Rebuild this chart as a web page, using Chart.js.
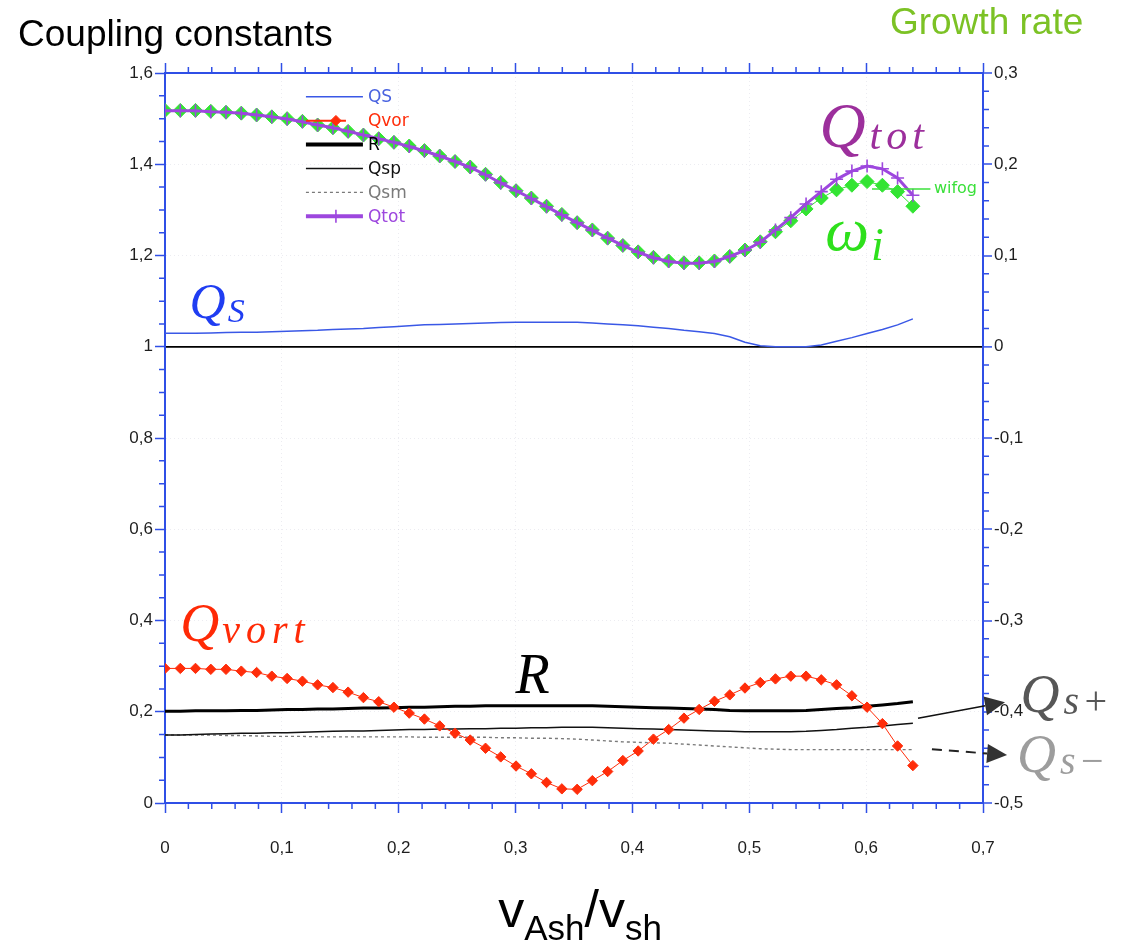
<!DOCTYPE html>
<html>
<head>
<meta charset="utf-8">
<title>Coupling constants</title>
<script src="https://cdn.jsdelivr.net/npm/chart.js@4.4.1/dist/chart.umd.min.js"></script>
<style>
  html, body { margin: 0; padding: 0; background: #fff; }
  #wrap { width: 1130px; height: 945px; position: relative; }
</style>
</head>
<body>
<div id="wrap"><canvas id="coupling"></canvas></div>
<script>
// v_Ash / v_sh sample points
const vRatio = [0, 0.0131, 0.0261, 0.0392, 0.0522, 0.0653, 0.0784, 0.0914, 0.1045, 0.1176,
  0.1306, 0.1437, 0.1567, 0.1698, 0.1829, 0.1959, 0.2090, 0.2220, 0.2351, 0.2482,
  0.2612, 0.2743, 0.2873, 0.3004, 0.3135, 0.3265, 0.3396, 0.3527, 0.3657, 0.3788,
  0.3918, 0.4049, 0.4180, 0.4310, 0.4441, 0.4571, 0.4702, 0.4833, 0.4963, 0.5094,
  0.5224, 0.5355, 0.5486, 0.5616, 0.5747, 0.5878, 0.6008, 0.6139, 0.6269, 0.6400];

// coupling constants (left axis)
const qS = [1.0295, 1.0295, 1.0295, 1.030, 1.031, 1.032, 1.032, 1.033, 1.034, 1.035,
  1.036, 1.038, 1.039, 1.040, 1.042, 1.044, 1.046, 1.048, 1.049, 1.050,
  1.051, 1.052, 1.053, 1.0535, 1.0535, 1.0535, 1.0535, 1.0535, 1.052, 1.050,
  1.048, 1.046, 1.043, 1.040, 1.036, 1.033, 1.029, 1.022, 1.010, 1.002,
  1.000, 1.000, 1.000, 1.004, 1.012, 1.020, 1.029, 1.038, 1.048, 1.061];
const qVort = [0.295, 0.295, 0.295, 0.293, 0.293, 0.289, 0.286, 0.278, 0.273, 0.267,
  0.259, 0.253, 0.243, 0.231, 0.222, 0.210, 0.197, 0.184, 0.169, 0.153,
  0.138, 0.120, 0.101, 0.081, 0.064, 0.045, 0.031, 0.030, 0.049, 0.069,
  0.093, 0.114, 0.140, 0.161, 0.186, 0.205, 0.223, 0.237, 0.252, 0.264,
  0.272, 0.278, 0.278, 0.270, 0.259, 0.235, 0.210, 0.174, 0.125, 0.082];
const rCoef = [0.201, 0.201, 0.202, 0.202, 0.202, 0.203, 0.203, 0.204, 0.205, 0.205,
  0.206, 0.206, 0.207, 0.208, 0.208, 0.209, 0.210, 0.210, 0.211, 0.212,
  0.212, 0.213, 0.213, 0.213, 0.213, 0.213, 0.213, 0.213, 0.213, 0.212,
  0.211, 0.210, 0.209, 0.208, 0.207, 0.206, 0.205, 0.203, 0.202, 0.202,
  0.202, 0.202, 0.203, 0.205, 0.207, 0.209, 0.212, 0.215, 0.218, 0.222];
const qSp = [0.149, 0.149, 0.150, 0.151, 0.152, 0.153, 0.153, 0.154, 0.154, 0.155,
  0.156, 0.157, 0.158, 0.158, 0.159, 0.160, 0.161, 0.161, 0.162, 0.162,
  0.163, 0.163, 0.164, 0.164, 0.165, 0.165, 0.166, 0.166, 0.166, 0.165,
  0.164, 0.163, 0.162, 0.161, 0.160, 0.159, 0.158, 0.157, 0.156, 0.156,
  0.156, 0.156, 0.157, 0.159, 0.161, 0.164, 0.166, 0.169, 0.172, 0.175];
const qSm = [0.149, 0.149, 0.149, 0.149, 0.148, 0.148, 0.147, 0.146, 0.146, 0.146,
  0.145, 0.145, 0.145, 0.145, 0.145, 0.145, 0.145, 0.144, 0.144, 0.144,
  0.144, 0.144, 0.143, 0.143, 0.142, 0.142, 0.141, 0.140, 0.138, 0.136,
  0.134, 0.133, 0.132, 0.131, 0.129, 0.127, 0.125, 0.123, 0.121, 0.119,
  0.118, 0.117, 0.117, 0.117, 0.117, 0.117, 0.117, 0.117, 0.117, 0.117];
const qTot = [1.517, 1.517, 1.517, 1.515, 1.514, 1.512, 1.508, 1.504, 1.499, 1.493,
  1.486, 1.480, 1.472, 1.464, 1.456, 1.448, 1.439, 1.429, 1.418, 1.406,
  1.393, 1.377, 1.359, 1.342, 1.325, 1.307, 1.289, 1.272, 1.255, 1.238,
  1.222, 1.207, 1.195, 1.187, 1.183, 1.183, 1.187, 1.198, 1.211, 1.229,
  1.256, 1.283, 1.313, 1.340, 1.367, 1.385, 1.396, 1.390, 1.370, 1.332];

// growth rate (right axis)
const wiFog = [0.259, 0.259, 0.259, 0.258, 0.257, 0.256, 0.254, 0.252, 0.250, 0.247,
  0.243, 0.240, 0.236, 0.232, 0.228, 0.224, 0.220, 0.215, 0.209, 0.203,
  0.197, 0.189, 0.180, 0.171, 0.163, 0.154, 0.145, 0.136, 0.128, 0.119,
  0.111, 0.104, 0.098, 0.094, 0.092, 0.092, 0.094, 0.099, 0.106, 0.115,
  0.126, 0.138, 0.151, 0.163, 0.172, 0.177, 0.181, 0.177, 0.170, 0.154];

const xTicks = [0, 0.1, 0.2, 0.3, 0.4, 0.5, 0.6, 0.7];
const leftTicks = [0, 0.2, 0.4, 0.6, 0.8, 1, 1.2, 1.4, 1.6];
const rightTicks = [-0.5, -0.4, -0.3, -0.2, -0.1, 0, 0.1, 0.2, 0.3];
const legendRows = ['QS', 'Qvor', 'R', 'Qsp', 'Qsm', 'Qtot'];

const axisBlue = '#2f4fe6';
const sans = '"Liberation Sans", Arial, sans-serif';
const serif = '"Liberation Serif", "Times New Roman", serif';
const tickFont = { family: sans, size: 17 };
const fmt = v => String(Math.round(v * 100) / 100).replace('.', ',');
const pts = ys => vRatio.map((x, i) => ({ x, y: ys[i] }));

function arrow(ctx, x1, y1, x2, y2, dash, width) {
  const ang = Math.atan2(y2 - y1, x2 - x1);
  const head = 20, half = 9.5;
  const bx = x2 - head * Math.cos(ang), by = y2 - head * Math.sin(ang);
  ctx.lineWidth = width;
  ctx.setLineDash(dash);
  ctx.beginPath(); ctx.moveTo(x1, y1); ctx.lineTo(bx, by); ctx.stroke();
  ctx.setLineDash([]);
  ctx.beginPath();
  ctx.moveTo(x2, y2);
  ctx.lineTo(bx + half * Math.sin(ang), by - half * Math.cos(ang));
  ctx.lineTo(bx - half * Math.sin(ang), by + half * Math.cos(ang));
  ctx.closePath(); ctx.fill();
}

function mathLabel(ctx, l, px, py) {
  ctx.fillStyle = l.color;
  ctx.textAlign = 'left';
  ctx.textBaseline = 'alphabetic';
  ctx.letterSpacing = '0px';
  ctx.font = `italic ${l.size}px ${serif}`;
  ctx.fillText(l.main, px, py);
  if (!l.sub) return;
  const w = ctx.measureText(l.main).width;
  ctx.font = `italic ${l.subSize}px ${serif}`;
  ctx.letterSpacing = (l.spacing || 0) + 'px';
  ctx.fillText(l.sub, px + w + (l.gap || 0), py + l.drop);
  ctx.letterSpacing = '0px';
}

// symbol labels placed in data units of the left axis
const mathLabels = [
  { main: 'Q', sub: 'S', x: 0.021, y: 1.062, color: '#1f3df2', size: 50, subSize: 34, drop: 4, gap: 2 },
  { main: 'Q', sub: 'tot', x: 0.560, y: 1.437, color: '#9c2f9c', size: 64, subSize: 42, drop: 2, gap: 4, spacing: 5 },
  { main: '\u03C9', sub: 'i', x: 0.565, y: 1.212, color: '#2ee01c', size: 62, subSize: 46, drop: 10, gap: 2 },
  { main: 'Q', sub: 'vort', x: 0.013, y: 0.354, color: '#ff2a06', size: 54, subSize: 40, drop: 2, gap: 3, spacing: 6 },
  { main: 'R', x: 0.300, y: 0.242, color: '#000', size: 56 },
  { main: 'Q', sub: 's+', x: 0.732, y: 0.200, color: '#575757', size: 54, subSize: 40, drop: 2, gap: 4, spacing: 3 },
  { main: 'Q', sub: 's\u2212', x: 0.729, y: 0.068, color: '#9d9d9d', size: 54, subSize: 40, drop: 2, gap: 4, spacing: 3 }
];

const decor = {
  id: 'decor',
  afterDraw(chart) {
    const { ctx, chartArea: a, scales } = chart;
    const { x, y, y2 } = scales;
    ctx.save();

    // minor ticks on all four sides
    ctx.strokeStyle = axisBlue;
    ctx.lineWidth = 1.5;
    ctx.beginPath();
    for (let i = 0; i < xTicks.length - 1; i++) {
      for (let k = 1; k < 5; k++) {
        const px = x.getPixelForValue(xTicks[i] + (xTicks[i + 1] - xTicks[i]) * k / 5);
        ctx.moveTo(px, a.bottom); ctx.lineTo(px, a.bottom + 6);
        ctx.moveTo(px, a.top); ctx.lineTo(px, a.top - 6);
      }
    }
    for (let i = 0; i < leftTicks.length - 1; i++) {
      for (let k = 1; k < 4; k++) {
        const py = y.getPixelForValue(leftTicks[i] + (leftTicks[i + 1] - leftTicks[i]) * k / 4);
        ctx.moveTo(a.left - 6, py); ctx.lineTo(a.left, py);
      }
    }
    for (let i = 0; i < rightTicks.length - 1; i++) {
      for (let k = 1; k < 5; k++) {
        const py = y2.getPixelForValue(rightTicks[i] + (rightTicks[i + 1] - rightTicks[i]) * k / 5);
        ctx.moveTo(a.right, py); ctx.lineTo(a.right + 6, py);
      }
    }
    ctx.stroke();

    // legend inside the plot
    const lx = x.getPixelForValue(0.1206);
    let ly = y.getPixelForValue(1.548);
    ctx.font = `17px "DejaVu Sans", ${sans}`;
    ctx.textBaseline = 'middle';
    ctx.textAlign = 'left';
    legendRows.forEach(name => {
      const ds = chart.data.datasets.find(d => d.label === name);
      ctx.strokeStyle = ds.borderColor;
      ctx.lineWidth = ds.legendWidth || ds.borderWidth;
      ctx.setLineDash(ds.borderDash || []);
      ctx.beginPath();
      ctx.moveTo(lx, ly); ctx.lineTo(lx + (name === 'Qvor' ? 40 : 57), ly);
      ctx.stroke();
      ctx.setLineDash([]);
      if (ds.pointRadius > 0) {
        ctx.fillStyle = ds.pointBackgroundColor || ds.borderColor;
        ctx.strokeStyle = ds.pointBorderColor || ds.borderColor;
        ctx.lineWidth = ds.pointBorderWidth || 1;
        Chart.helpers.drawPoint(ctx, {
          pointStyle: ds.pointStyle, radius: ds.pointRadius,
          borderWidth: ds.pointBorderWidth || 1, rotation: 0
        }, lx + 30, ly);
      }
      ctx.fillStyle = ds.legendText || ds.borderColor;
      ctx.fillText(name, lx + 62, ly + 1);
      ly += 23.9;
    });

    // wifog tag at the end of the growth-rate curve
    const wy = y2.getPixelForValue(0.173);
    ctx.strokeStyle = '#3be03b';
    ctx.lineWidth = 1.5;
    ctx.beginPath();
    ctx.moveTo(x.getPixelForValue(0.605), wy);
    ctx.lineTo(x.getPixelForValue(0.655), wy);
    ctx.stroke();
    ctx.fillStyle = '#3be03b';
    ctx.font = `16px "DejaVu Sans", ${sans}`;
    ctx.fillText('wifog', x.getPixelForValue(0.658), wy);

    // symbol labels
    mathLabels.forEach(l => mathLabel(ctx, l, x.getPixelForValue(l.x), y.getPixelForValue(l.y)));

    // arrows towards the Qs+ / Qs- symbols
    ctx.strokeStyle = '#111';
    ctx.fillStyle = '#333';
    arrow(ctx, x.getPixelForValue(0.6444), y.getPixelForValue(0.186),
      x.getPixelForValue(0.7188), y.getPixelForValue(0.221), [], 1.5);
    ctx.strokeStyle = '#222';
    arrow(ctx, x.getPixelForValue(0.6563), y.getPixelForValue(0.118),
      x.getPixelForValue(0.7206), y.getPixelForValue(0.105), [10, 7], 2);

    // headings
    ctx.textBaseline = 'alphabetic';
    ctx.fillStyle = '#000';
    ctx.font = `37px ${sans}`;
    ctx.fillText('Coupling constants', 18, 46);
    ctx.fillStyle = '#7cc225';
    ctx.fillText('Growth rate', 890, 34);

    // x-axis title v_Ash / v_sh
    const parts = [['v', 52, 0], ['Ash', 35, 13], ['/', 52, 0], ['v', 52, 0], ['sh', 35, 13]];
    let total = 0;
    parts.forEach(p => { ctx.font = `${p[1]}px ${sans}`; total += ctx.measureText(p[0]).width; });
    let tx = 580 - total / 2;
    ctx.fillStyle = '#000';
    parts.forEach(p => {
      ctx.font = `${p[1]}px ${sans}`;
      ctx.fillText(p[0], tx, 927 + p[2]);
      tx += ctx.measureText(p[0]).width;
    });

    ctx.restore();
  }
};

const faintGrid = 'rgba(110,110,150,0.13)';

new Chart(document.getElementById('coupling'), {
  type: 'line',
  data: {
    datasets: [
      { label: 'Qtot', data: pts(qTot), yAxisID: 'y', order: 0,
        borderColor: '#9d47de', borderWidth: 3, legendWidth: 4,
        pointStyle: 'cross', pointRadius: 6.5, pointBorderColor: '#9d47de', pointBorderWidth: 1.6 },
      { label: 'wifog', data: pts(wiFog), yAxisID: 'y2', order: 1,
        borderColor: '#33e433', borderWidth: 1,
        pointStyle: 'rectRot', pointRadius: 7, pointBackgroundColor: '#33e433', pointBorderColor: '#33e433', pointBorderWidth: 1 },
      { label: 'Qvor', data: pts(qVort), yAxisID: 'y', order: 2,
        borderColor: '#ff2d0a', borderWidth: 1, legendWidth: 2,
        pointStyle: 'rectRot', pointRadius: 5.2, pointBackgroundColor: '#ff2d0a', pointBorderColor: '#ff2d0a', pointBorderWidth: 1 },
      { label: 'QS', data: pts(qS), yAxisID: 'y', order: 3,
        borderColor: '#3a58e6', borderWidth: 1.5, pointRadius: 0, legendText: '#4a63e0' },
      { label: 'R', data: pts(rCoef), yAxisID: 'y', order: 4,
        borderColor: '#000', borderWidth: 3, legendWidth: 4, pointRadius: 0 },
      { label: 'Qsp', data: pts(qSp), yAxisID: 'y', order: 5,
        borderColor: '#111', borderWidth: 1.5, pointRadius: 0 },
      { label: 'Qsm', data: pts(qSm), yAxisID: 'y', order: 6,
        borderColor: '#7a7a7a', borderWidth: 1.4, borderDash: [3, 3], pointRadius: 0 }
    ]
  },
  options: {
    responsive: true,
    maintainAspectRatio: false,
    animation: false,
    layout: { padding: { top: 53, left: 0, right: 0, bottom: 0 } },
    plugins: { legend: { display: false }, tooltip: { enabled: false } },
    elements: { line: { tension: 0 } },
    scales: {
      x: {
        type: 'linear', position: 'bottom', min: 0, max: 0.7,
        afterBuildTicks: s => { s.ticks = xTicks.map(value => ({ value })); },
        afterFit: s => { s.height = 142; },
        border: { color: axisBlue, width: 2, dash: [1, 3] },
        grid: { color: faintGrid, tickColor: axisBlue, tickLength: 10, tickWidth: 1.5 },
        ticks: { callback: fmt, font: tickFont, color: '#1e1e1e', padding: 25, maxRotation: 0, autoSkip: false }
      },
      x2: {
        type: 'linear', position: 'top', min: 0, max: 0.7,
        afterBuildTicks: s => { s.ticks = xTicks.map(value => ({ value })); },
        afterFit: s => { s.height = 20; },
        border: { color: axisBlue, width: 2 },
        grid: { drawOnChartArea: false, tickColor: axisBlue, tickLength: 10, tickWidth: 1.5 },
        ticks: { display: false }
      },
      y: {
        type: 'linear', position: 'left', min: 0, max: 1.6,
        afterBuildTicks: s => { s.ticks = leftTicks.map(value => ({ value })); },
        afterFit: s => { s.width = 165; },
        border: { color: axisBlue, width: 2, dash: [1, 3] },
        grid: { color: faintGrid, tickColor: axisBlue, tickLength: 10, tickWidth: 1.5 },
        ticks: { callback: fmt, font: tickFont, color: '#1e1e1e', padding: 2 }
      },
      y2: {
        type: 'linear', position: 'right', min: -0.5, max: 0.3,
        afterBuildTicks: s => { s.ticks = rightTicks.map(value => ({ value })); },
        afterFit: s => { s.width = 147; },
        border: { color: axisBlue, width: 2 },
        grid: {
          color: c => (c.tick && Math.abs(c.tick.value) < 1e-9 ? '#000' : 'transparent'),
          lineWidth: c => (c.tick && Math.abs(c.tick.value) < 1e-9 ? 1.8 : 0),
          tickColor: axisBlue, tickLength: 9, tickWidth: 1.5
        },
        ticks: { callback: fmt, font: tickFont, color: '#1e1e1e', padding: 2 }
      }
    }
  },
  plugins: [decor]
});
</script>
</body>
</html>
